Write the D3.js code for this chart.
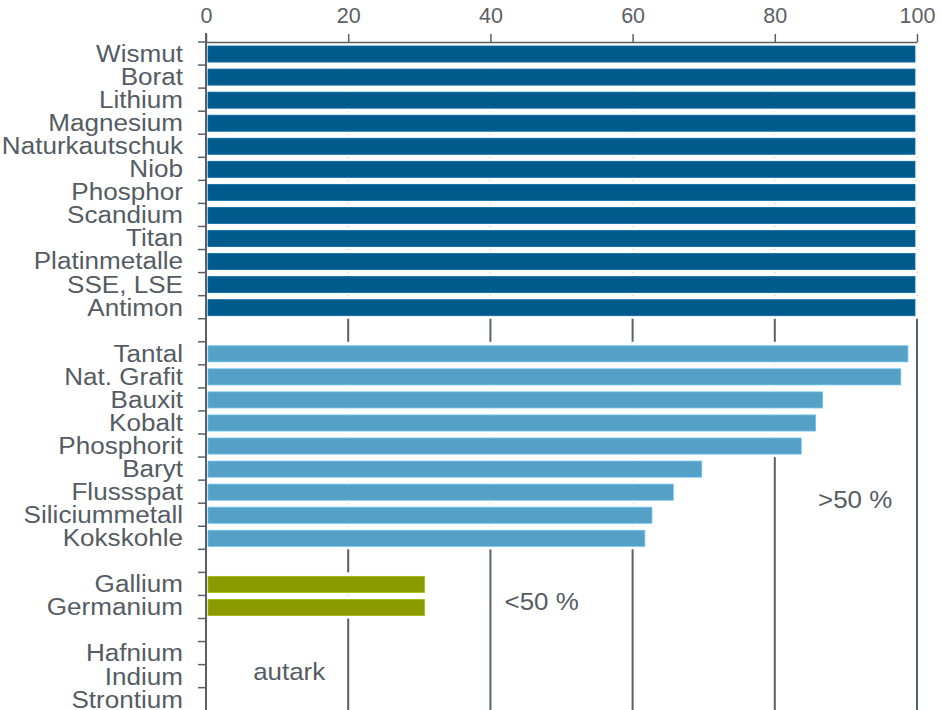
<!DOCTYPE html>
<html>
<head>
<meta charset="utf-8">
<script src="https://cdn.jsdelivr.net/npm/d3@7"></script>
<style>
	body { margin: 0; background: #fff; }
	svg { display: block; font-family: "Liberation Sans", Arial, sans-serif; }
	.lbl { fill: #555c63; font-size: 23.3px; }
	.tick text { fill: #5a6066; font-size: 21.5px; }
	.note { fill: #555c63; font-size: 24px; }
</style>
</head>
<body>
<div id="chart"></div>
<script>

// data
// ----------------------------------------

// "" = empty row between the groups
var rows = ["Wismut","Borat","Lithium","Magnesium","Naturkautschuk","Niob","Phosphor","Scandium","Titan","Platinmetalle","SSE, LSE","Antimon",
	"",
	"Tantal","Nat. Grafit","Bauxit","Kobalt","Phosphorit","Baryt","Flussspat","Siliciummetall","Kokskohle",
	"",
	"Gallium","Germanium",
	"",
	"Hafnium","Indium","Strontium"];

var full_names = ["Wismut","Borat","Lithium","Magnesium","Naturkautschuk","Niob","Phosphor","Scandium","Titan","Platinmetalle","SSE, LSE","Antimon"];
var full_values = [100,100,100,100,100,100,100,100,100,100,100,100];

var high_names = ["Tantal","Nat. Grafit","Bauxit","Kobalt","Phosphorit","Baryt","Flussspat","Siliciummetall","Kokskohle"];
var high_values = [99,98,87,86,84,70,66,63,62];

var low_names = ["Gallium","Germanium"];
var low_values = [31,31];

var x_ticks = [0,20,40,60,80,100];

var notes = ["autark","<50 %",">50 %"];

// main variables
// ----------------------------------------

var width = 941, height = 710;
var margin = {top: 42, left: 206, right: 24};
var step = 23.06;
var stretch = 1.12; // labels are a bit wider than plain Arial

var colors = {full: "#005a8c", high: "#55a0c6", low: "#8a9b00"};
var ink = "#5a6066";

var svg = d3.select("#chart").append("svg")
	.attr("width", width)
	.attr("height", height);

var x = d3.scaleLinear()
	.domain([0, 100])
	.range([margin.left, 917]);

var y = d3.scaleBand()
	.domain(d3.range(rows.length))
	.range([margin.top, margin.top + step * rows.length])
	.paddingInner(0);

var bars = [];
full_names.forEach(function(n, i){ bars.push({name: n, value: full_values[i], group: "full"}); });
high_names.forEach(function(n, i){ bars.push({name: n, value: high_values[i], group: "high"}); });
low_names.forEach(function(n, i){ bars.push({name: n, value: low_values[i], group: "low"}); });
bars.forEach(function(d){ d.row = rows.indexOf(d.name); });

// gridlines
// ----------------------------------------

svg.append("g")
	.attr("class", "grid")
	.selectAll("line")
	.data(x_ticks.filter(function(d){ return d > 0; }))
	.enter()
	.append("line")
	.attr("x1", function(d){ return x(d); })
	.attr("x2", function(d){ return x(d); })
	.attr("y1", margin.top)
	.attr("y2", height)
	.attr("stroke", ink)
	.attr("stroke-width", 2);

// bars (white band behind each bar hides the grid)
// ----------------------------------------

var bar_g = svg.append("g").attr("class", "bars");

bar_g.selectAll(".bg")
	.data(bars)
	.enter()
	.append("rect")
	.attr("class", "bg")
	.attr("x", x(0) + 1)
	.attr("y", function(d){ return y(d.row); })
	.attr("width", function(d){ return x(d.value) - x(0) + 1; })
	.attr("height", y.bandwidth())
	.attr("fill", "#fff");

bar_g.selectAll(".bar")
	.data(bars)
	.enter()
	.append("rect")
	.attr("class", "bar")
	.attr("x", x(0) + 2)
	.attr("y", function(d){ return y(d.row) + 4; })
	.attr("width", function(d){ return x(d.value) - x(0) - 4; })
	.attr("height", y.bandwidth() - 7)
	.attr("fill", function(d){ return colors[d.group]; })
	.attr("stroke", function(d){ return d3.color(colors[d.group]).brighter(0.5); })
	.attr("stroke-width", 0.8);

// axes
// ----------------------------------------

var x_axis = svg.append("g")
	.attr("transform", "translate(0," + margin.top + ")")
	.call(d3.axisTop(x).tickValues(x_ticks).tickSize(8).tickSizeOuter(0).tickPadding(11));

x_axis.select(".domain").attr("stroke", ink).attr("stroke-width", 1.5);
x_axis.selectAll(".tick line").attr("stroke", ink).attr("stroke-width", 1.5);

// left axis: line + ticks between rows
var y_axis = svg.append("g").attr("class", "y_axis");

y_axis.append("line")
	.attr("x1", x(0)).attr("x2", x(0))
	.attr("y1", margin.top - 9).attr("y2", height)
	.attr("stroke", ink)
	.attr("stroke-width", 2);

y_axis.selectAll(".row_tick")
	.data(d3.range(rows.length))
	.enter()
	.append("line")
	.attr("class", "row_tick")
	.attr("x1", x(0) - 8).attr("x2", x(0))
	.attr("y1", function(d){ return y(d); })
	.attr("y2", function(d){ return y(d); })
	.attr("stroke", ink)
	.attr("stroke-width", 1.5);

// category labels
svg.append("g")
	.selectAll("text")
	.data(rows.filter(function(d){ return d != ""; }))
	.enter()
	.append("text")
	.attr("class", "lbl")
	.attr("text-anchor", "end")
	.attr("transform", function(d){
		return "translate(183," + (y(rows.indexOf(d)) + y.bandwidth() / 2) + ") scale(" + stretch + ",1)";
	})
	.attr("dy", "0.36em")
	.text(function(d){ return d; });

// notes in the plot
// ----------------------------------------

var note_pos = [
	{value: 11.7, row: 27.28},
	{value: 47.2, row: 24.24},
	{value: 91.3, row: 19.82}
];

svg.append("g")
	.selectAll("text")
	.data(notes)
	.enter()
	.append("text")
	.attr("class", "note")
	.attr("text-anchor", "middle")
	.attr("transform", function(d, i){
		return "translate(" + x(note_pos[i].value) + "," + (margin.top + note_pos[i].row * step) + ") scale(1.08,1)";
	})
	.attr("dy", "0.36em")
	.text(function(d){ return d; });

</script>
</body>
</html>
